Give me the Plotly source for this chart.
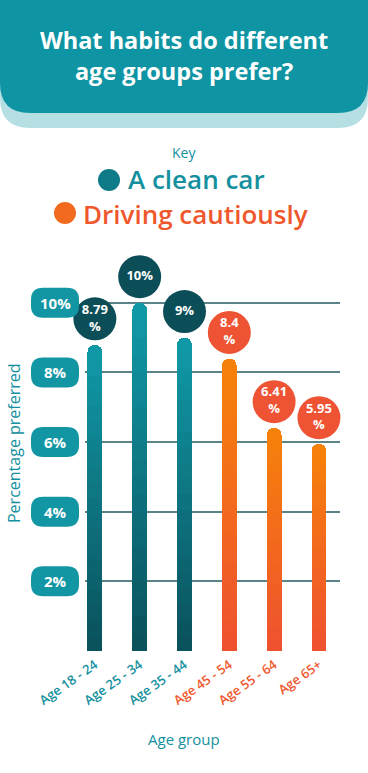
import plotly.graph_objects as go

# ---------------- data ----------------
categories = ["Age 18 - 24", "Age 25 - 34", "Age 35 - 44", "Age 45 - 54", "Age 55 - 64", "Age 65+"]
values = [8.79, 10, 9, 8.4, 6.41, 5.95]
value_labels = ["8.79<br>%", "10%", "9%", "8.4<br>%", "6.41<br>%", "5.95<br>%"]
habit = ["A clean car", "A clean car", "A clean car",
         "Driving cautiously", "Driving cautiously", "Driving cautiously"]
y_ticks = [2, 4, 6, 8, 10]
y_tick_labels = ["2%", "4%", "6%", "8%", "10%"]

# ---------------- styles ----------------
FONT = "Open Sans"
TEAL = "#1396A4"
TEAL_TEXT = "#14909E"
ORANGE_TEXT = "#EF582D"
top_col = {"A clean car": "#1198A7", "Driving cautiously": "#F6810A"}
bot_col = {"A clean car": "#0A525C", "Driving cautiously": "#EF522F"}
bubble_col = {"A clean car": "#0C4E58", "Driving cautiously": "#EE5333"}
label_col = {"A clean car": TEAL_TEXT, "Driving cautiously": ORANGE_TEXT}

W, H = 368, 773
PL, PR, PT, PB = 85, 340, 268, 651
YMAX = 11


def xp(x):
    return (x - PL) / (PR - PL)


def yp(y):
    return (PB - y) / (PB - PT)


def P(x, y):
    return f"{xp(x):.5f},{yp(y):.5f}"


def hex_to_rgb(h):
    h = h.lstrip("#")
    return tuple(int(h[i:i + 2], 16) for i in (0, 2, 4))


def lerp(c1, c2, t):
    a, b = hex_to_rgb(c1), hex_to_rgb(c2)
    return "rgb(%d,%d,%d)" % tuple(round(a[i] + (b[i] - a[i]) * t) for i in range(3))


fig = go.Figure()

# gradient bars built from stacked slices of each value
K = 20
for k in range(K):
    t = k / (K - 1)
    fig.add_trace(go.Bar(
        x=categories,
        y=[v / K for v in values],
        width=0.33,
        marker=dict(color=[lerp(bot_col[h], top_col[h], t) for h in habit], line=dict(width=0)),
        hoverinfo="skip",
        showlegend=False,
    ))

# value bubbles above each bar
fig.add_trace(go.Scatter(
    x=categories,
    y=[v + 0.75 for v in values],
    mode="markers+text",
    marker=dict(size=43, color=[bubble_col[h] for h in habit], line=dict(width=0)),
    text=value_labels,
    textposition="middle center",
    textfont=dict(family=FONT, size=13, color="white", weight="bold"),
    cliponaxis=False,
    hoverinfo="skip",
    showlegend=False,
))

shapes = []
annotations = []

# header
shapes.append(dict(type="path", xref="paper", yref="paper", layer="below",
                   path=f"M {P(0,0)} L {P(368,0)} L {P(368,98)} Q {P(368,128)} {P(338,128)} "
                        f"L {P(30,128)} Q {P(0,128)} {P(0,98)} Z",
                   fillcolor="#B6DFE4", line=dict(width=0)))
shapes.append(dict(type="path", xref="paper", yref="paper", layer="below",
                   path=f"M {P(0,0)} L {P(368,0)} L {P(368,83)} Q {P(368,113)} {P(338,113)} "
                        f"L {P(30,113)} Q {P(0,113)} {P(0,83)} Z",
                   fillcolor="#0E94A3", line=dict(width=0)))
annotations.append(dict(xref="paper", yref="paper", x=xp(184), y=yp(56), showarrow=False,
                        text="What habits do different<br>age groups prefer?",
                        font=dict(family=FONT, size=23.5, color="white", weight="bold"),
                        xanchor="center", yanchor="middle", align="center"))

# key
annotations.append(dict(xref="paper", yref="paper", x=xp(184), y=yp(152), showarrow=False,
                        text="Key", font=dict(family=FONT, size=14, color=TEAL_TEXT),
                        xanchor="center", yanchor="middle"))
shapes.append(dict(type="circle", xref="paper", yref="paper", x0=xp(98), x1=xp(120),
                   y0=yp(191), y1=yp(169), fillcolor="#0F7A88", line=dict(width=0)))
shapes.append(dict(type="circle", xref="paper", yref="paper", x0=xp(54), x1=xp(76),
                   y0=yp(224), y1=yp(202), fillcolor="#F26A1E", line=dict(width=0)))
annotations.append(dict(xref="paper", yref="paper", x=xp(126), y=yp(178.5), showarrow=False,
                        text="A clean car", font=dict(family=FONT, size=26, color=TEAL_TEXT, weight=600),
                        xanchor="left", yanchor="middle"))
annotations.append(dict(xref="paper", yref="paper", x=xp(81), y=yp(214), showarrow=False,
                        text="Driving cautiously", font=dict(family=FONT, size=26, color=ORANGE_TEXT, weight=600),
                        xanchor="left", yanchor="middle"))

# darker top gridline
shapes.append(dict(type="line", xref="paper", yref="y", x0=0, x1=1, y0=y_ticks[-1], y1=y_ticks[-1],
                   line=dict(color="#163E45", width=1.5), layer="between"))

# y tick pills
for tv, tl in zip(y_ticks, y_tick_labels):
    shapes.append(dict(type="path", xref="paper", yref="y", xsizemode="pixel", ysizemode="pixel",
                       xanchor=xp(55), yanchor=tv,
                       path="M -12,-15 L 12,-15 Q 24,-15 24,-3 L 24,3 Q 24,15 12,15 L -12,15 "
                            "Q -24,15 -24,3 L -24,-3 Q -24,-15 -12,-15 Z",
                       fillcolor=TEAL, line=dict(width=0)))
    annotations.append(dict(xref="paper", yref="y", x=xp(55), y=tv, text=tl, showarrow=False,
                            font=dict(family=FONT, size=15, color="white", weight="bold"),
                            xanchor="center", yanchor="middle"))

# axis titles
annotations.append(dict(xref="paper", yref="paper", x=xp(14), y=yp(443), showarrow=False,
                        text="Percentage preferred", textangle=-90,
                        font=dict(family=FONT, size=16, color=TEAL_TEXT),
                        xanchor="center", yanchor="middle"))
annotations.append(dict(xref="paper", yref="paper", x=xp(184), y=yp(739), showarrow=False,
                        text="Age group", font=dict(family=FONT, size=15, color=TEAL_TEXT),
                        xanchor="center", yanchor="middle"))

ticktext = [f'<span style="color:{label_col[h]}">{c}</span>' for c, h in zip(categories, habit)]

fig.update_layout(
    width=W, height=H,
    margin=dict(l=PL, r=W - PR, t=PT, b=H - PB, pad=0),
    paper_bgcolor="white", plot_bgcolor="white",
    barmode="stack", barcornerradius="50%",
    shapes=shapes, annotations=annotations,
    font=dict(family=FONT),
    xaxis=dict(type="category", range=[-0.22, 5.47], tickvals=categories, ticktext=ticktext,
               tickangle=-35, tickfont=dict(family=FONT, size=13, weight=600),
               showgrid=False, showline=False, zeroline=False, ticks="", ticklabelstandoff=3),
    yaxis=dict(range=[0, YMAX], tickvals=y_ticks, showticklabels=False, showgrid=True,
               gridcolor="#5B8489", gridwidth=1.5, zeroline=False, showline=False),
)

fig.write_html("out.html", config={"displayModeBar": False},
               post_script="document.body.style.margin='0';document.body.style.overflow='hidden';")
